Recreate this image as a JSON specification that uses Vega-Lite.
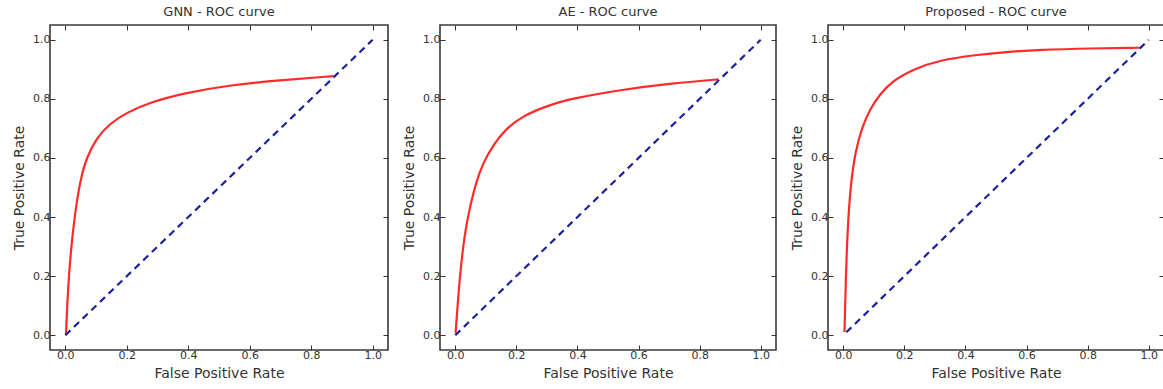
{
  "$schema": "https://vega.github.io/schema/vega-lite/v6.json",
  "padding": {"left": 11, "top": 4, "right": 0, "bottom": 0},
  "background": "white",
  "bounds": "flush",
  "spacing": 52,
  "config": {
    "font": "DejaVu Sans",
    "view": {"stroke": "#3a3a3a", "strokeWidth": 1.6},
    "title": {"fontSize": 13, "fontWeight": "normal", "color": "#333", "offset": 6, "font": "DejaVu Sans"},
    "axis": {
      "grid": false, "domain": false, "tickSize": -5, "tickColor": "#333", "tickWidth": 1,
      "labelFont": "DejaVu Sans", "labelFontSize": 11, "labelColor": "#333",
      "titleFont": "DejaVu Sans", "titleFontSize": 14, "titleFontWeight": "normal", "titleColor": "#333"
    },
    "axisX": {"labelPadding": 4, "titlePadding": 6},
    "axisY": {"labelPadding": 5, "titlePadding": 6}
  },
  "data": {"values": [
    {"model": "GNN", "kind": "roc", "fpr": 0.002, "tpr": 0.0},
    {"model": "GNN", "kind": "roc", "fpr": 0.008, "tpr": 0.15},
    {"model": "GNN", "kind": "roc", "fpr": 0.018, "tpr": 0.29},
    {"model": "GNN", "kind": "roc", "fpr": 0.031, "tpr": 0.41},
    {"model": "GNN", "kind": "roc", "fpr": 0.048, "tpr": 0.523},
    {"model": "GNN", "kind": "roc", "fpr": 0.069, "tpr": 0.602},
    {"model": "GNN", "kind": "roc", "fpr": 0.102, "tpr": 0.668},
    {"model": "GNN", "kind": "roc", "fpr": 0.145, "tpr": 0.717},
    {"model": "GNN", "kind": "roc", "fpr": 0.2, "tpr": 0.754},
    {"model": "GNN", "kind": "roc", "fpr": 0.276, "tpr": 0.788},
    {"model": "GNN", "kind": "roc", "fpr": 0.384, "tpr": 0.819},
    {"model": "GNN", "kind": "roc", "fpr": 0.536, "tpr": 0.847},
    {"model": "GNN", "kind": "roc", "fpr": 0.71, "tpr": 0.864},
    {"model": "GNN", "kind": "roc", "fpr": 0.873, "tpr": 0.877},
    {"model": "GNN", "kind": "diag", "fpr": 0.0, "tpr": 0.0},
    {"model": "GNN", "kind": "diag", "fpr": 1.0, "tpr": 1.0},
    {"model": "AE", "kind": "roc", "fpr": 0.001, "tpr": 0.006},
    {"model": "AE", "kind": "roc", "fpr": 0.014, "tpr": 0.193},
    {"model": "AE", "kind": "roc", "fpr": 0.03, "tpr": 0.34},
    {"model": "AE", "kind": "roc", "fpr": 0.047, "tpr": 0.43},
    {"model": "AE", "kind": "roc", "fpr": 0.069, "tpr": 0.521},
    {"model": "AE", "kind": "roc", "fpr": 0.09, "tpr": 0.58},
    {"model": "AE", "kind": "roc", "fpr": 0.123, "tpr": 0.643},
    {"model": "AE", "kind": "roc", "fpr": 0.167, "tpr": 0.7},
    {"model": "AE", "kind": "roc", "fpr": 0.221, "tpr": 0.742},
    {"model": "AE", "kind": "roc", "fpr": 0.298, "tpr": 0.776},
    {"model": "AE", "kind": "roc", "fpr": 0.385, "tpr": 0.802},
    {"model": "AE", "kind": "roc", "fpr": 0.538, "tpr": 0.83},
    {"model": "AE", "kind": "roc", "fpr": 0.713, "tpr": 0.853},
    {"model": "AE", "kind": "roc", "fpr": 0.862, "tpr": 0.866},
    {"model": "AE", "kind": "diag", "fpr": 0.0, "tpr": 0.0},
    {"model": "AE", "kind": "diag", "fpr": 1.0, "tpr": 1.0},
    {"model": "Proposed", "kind": "roc", "fpr": 0.004, "tpr": 0.011},
    {"model": "Proposed", "kind": "roc", "fpr": 0.008, "tpr": 0.18},
    {"model": "Proposed", "kind": "roc", "fpr": 0.014, "tpr": 0.36},
    {"model": "Proposed", "kind": "roc", "fpr": 0.024, "tpr": 0.51},
    {"model": "Proposed", "kind": "roc", "fpr": 0.04, "tpr": 0.625},
    {"model": "Proposed", "kind": "roc", "fpr": 0.062, "tpr": 0.705},
    {"model": "Proposed", "kind": "roc", "fpr": 0.086, "tpr": 0.762},
    {"model": "Proposed", "kind": "roc", "fpr": 0.119, "tpr": 0.815},
    {"model": "Proposed", "kind": "roc", "fpr": 0.162, "tpr": 0.861},
    {"model": "Proposed", "kind": "roc", "fpr": 0.228, "tpr": 0.9},
    {"model": "Proposed", "kind": "roc", "fpr": 0.315, "tpr": 0.931},
    {"model": "Proposed", "kind": "roc", "fpr": 0.435, "tpr": 0.949},
    {"model": "Proposed", "kind": "roc", "fpr": 0.533, "tpr": 0.959},
    {"model": "Proposed", "kind": "roc", "fpr": 0.643, "tpr": 0.966},
    {"model": "Proposed", "kind": "roc", "fpr": 0.806, "tpr": 0.971},
    {"model": "Proposed", "kind": "roc", "fpr": 0.969, "tpr": 0.973},
    {"model": "Proposed", "kind": "diag", "fpr": 0.01, "tpr": 0.01},
    {"model": "Proposed", "kind": "diag", "fpr": 1.0, "tpr": 1.0}
  ]},
  "hconcat": [
    {
      "title": "GNN - ROC curve",
      "width": 338, "height": 325,
      "transform": [{"filter": "datum.model === 'GNN'"}],
      "layer": [
        {
          "transform": [{"filter": "datum.kind === 'roc'"}],
          "mark": {"type": "line", "color": "#ff2a2a", "strokeWidth": 2.2, "interpolate": "basis"},
          "encoding": {
            "x": {"field": "fpr", "type": "quantitative", "scale": {"domain": [-0.05, 1.05], "nice": false, "zero": false}, "axis": {"title": "False Positive Rate", "values": [0, 0.2, 0.4, 0.6, 0.8, 1.0], "format": ".1f"}},
            "y": {"field": "tpr", "type": "quantitative", "scale": {"domain": [-0.05, 1.05], "nice": false, "zero": false}, "axis": {"title": "True Positive Rate", "values": [0, 0.2, 0.4, 0.6, 0.8, 1.0], "format": ".1f"}}
          }
        },
        {
          "transform": [{"filter": "datum.kind === 'diag'"}],
          "mark": {"type": "line", "color": "#1c239a", "strokeWidth": 2.2, "strokeDash": [7, 5]},
          "encoding": {
            "x": {"field": "fpr", "type": "quantitative", "axis": {"orient": "top", "labels": false, "title": null, "values": [0, 0.2, 0.4, 0.6, 0.8, 1.0]}},
            "y": {"field": "tpr", "type": "quantitative", "axis": {"orient": "right", "labels": false, "title": null, "values": [0, 0.2, 0.4, 0.6, 0.8, 1.0]}}
          }
        }
      ],
      "resolve": {"axis": {"x": "independent", "y": "independent"}}
    },
    {
      "title": "AE - ROC curve",
      "width": 336, "height": 325,
      "transform": [{"filter": "datum.model === 'AE'"}],
      "layer": [
        {
          "transform": [{"filter": "datum.kind === 'roc'"}],
          "mark": {"type": "line", "color": "#ff2a2a", "strokeWidth": 2.2, "interpolate": "basis"},
          "encoding": {
            "x": {"field": "fpr", "type": "quantitative", "scale": {"domain": [-0.05, 1.05], "nice": false, "zero": false}, "axis": {"title": "False Positive Rate", "values": [0, 0.2, 0.4, 0.6, 0.8, 1.0], "format": ".1f"}},
            "y": {"field": "tpr", "type": "quantitative", "scale": {"domain": [-0.05, 1.05], "nice": false, "zero": false}, "axis": {"title": "True Positive Rate", "values": [0, 0.2, 0.4, 0.6, 0.8, 1.0], "format": ".1f"}}
          }
        },
        {
          "transform": [{"filter": "datum.kind === 'diag'"}],
          "mark": {"type": "line", "color": "#1c239a", "strokeWidth": 2.2, "strokeDash": [7, 5]},
          "encoding": {
            "x": {"field": "fpr", "type": "quantitative", "axis": {"orient": "top", "labels": false, "title": null, "values": [0, 0.2, 0.4, 0.6, 0.8, 1.0]}},
            "y": {"field": "tpr", "type": "quantitative", "axis": {"orient": "right", "labels": false, "title": null, "values": [0, 0.2, 0.4, 0.6, 0.8, 1.0]}}
          }
        }
      ],
      "resolve": {"axis": {"x": "independent", "y": "independent"}}
    },
    {
      "title": "Proposed - ROC curve",
      "width": 336, "height": 325,
      "transform": [{"filter": "datum.model === 'Proposed'"}],
      "layer": [
        {
          "transform": [{"filter": "datum.kind === 'roc'"}],
          "mark": {"type": "line", "color": "#ff2a2a", "strokeWidth": 2.2, "interpolate": "basis"},
          "encoding": {
            "x": {"field": "fpr", "type": "quantitative", "scale": {"domain": [-0.05, 1.05], "nice": false, "zero": false}, "axis": {"title": "False Positive Rate", "values": [0, 0.2, 0.4, 0.6, 0.8, 1.0], "format": ".1f"}},
            "y": {"field": "tpr", "type": "quantitative", "scale": {"domain": [-0.05, 1.05], "nice": false, "zero": false}, "axis": {"title": "True Positive Rate", "values": [0, 0.2, 0.4, 0.6, 0.8, 1.0], "format": ".1f"}}
          }
        },
        {
          "transform": [{"filter": "datum.kind === 'diag'"}],
          "mark": {"type": "line", "color": "#1c239a", "strokeWidth": 2.2, "strokeDash": [7, 5]},
          "encoding": {
            "x": {"field": "fpr", "type": "quantitative", "axis": {"orient": "top", "labels": false, "title": null, "values": [0, 0.2, 0.4, 0.6, 0.8, 1.0]}},
            "y": {"field": "tpr", "type": "quantitative", "axis": {"orient": "right", "labels": false, "title": null, "values": [0, 0.2, 0.4, 0.6, 0.8, 1.0]}}
          }
        }
      ],
      "resolve": {"axis": {"x": "independent", "y": "independent"}}
    }
  ]
}
